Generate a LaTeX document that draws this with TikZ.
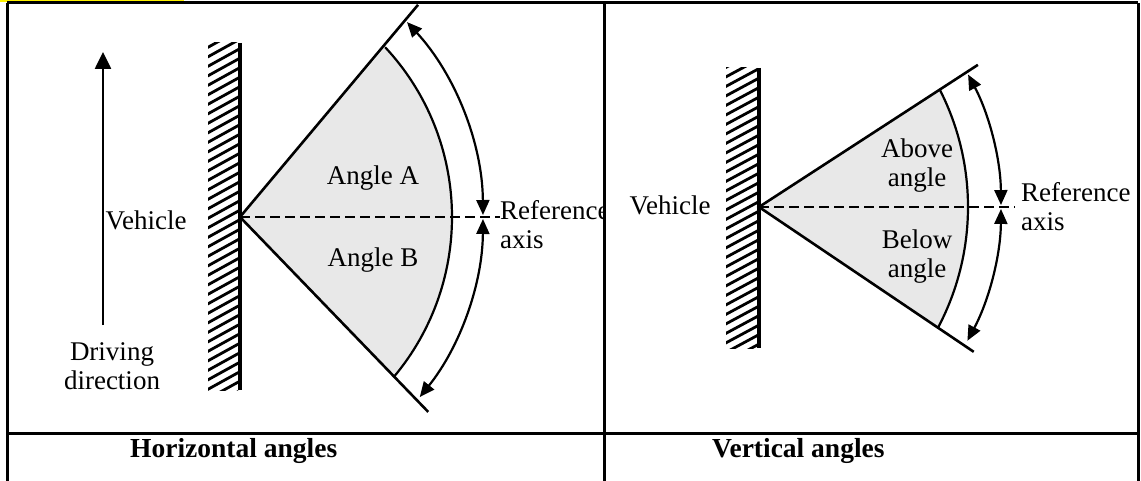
\documentclass[tikz,border=0pt]{standalone}
\usepackage{fontspec}
\setmainfont{Liberation Serif}
\usetikzlibrary{arrows.meta,calc,positioning}
\tikzset{
  frame/.style={line width=3pt},
  ray/.style={line width=2.6pt},
  arcline/.style={line width=2.2pt},
  axisline/.style={dash pattern=on 10pt off 5pt, line width=2.4pt},
  wallline/.style={line width=3.2pt},
  hatch/.style={line width=2.8pt},
  sector/.style={fill=black!9},
  lbl/.style={font=\fontsize{27}{29}\selectfont, inner sep=0pt, align=center},
  caption/.style={font=\bfseries\fontsize{27.5}{29}\selectfont, inner sep=0pt, anchor=base west}
}

\begin{document}
\begin{tikzpicture}[x=1pt,y=-1pt,>={Triangle[length=15pt,width=13pt]}]
\useasboundingbox (0,0) rectangle (1141,481);
\fill[yellow] (0,0) rectangle (184,2.5);
% table
\draw[frame] (7,3) -- (1138,3);
\draw[frame] (7,3) -- (7,481);
\draw[frame] (604,3) -- (604,481);
\draw[frame] (1138,3) -- (1138,481);
\draw[frame] (7,433) -- (1138,433);

% horizontal angles
\coordinate (apexL) at (240,217);
\coordinate (cenL) at (203,217);
\coordinate (arrL) at (195,217);
\coordinate (rayLa) at ($(apexL)+(-50:277)$);
\coordinate (rayLb) at ($(apexL)+(46:271)$);
\coordinate (axisL) at (500,217);
\begin{scope}
\clip (208,43) rectangle (238,390);
\foreach \y in {40,49.5,...,430} \draw[hatch] (204,\y) -- (242,\y-21);
\end{scope}
\draw[wallline] (240,43) -- (240,390);
\fill[sector] (apexL) -- ($(cenL)+(-43:249)$) arc[start angle=-43,end angle=40,radius=249] -- cycle;
\draw[arcline] ($(cenL)+(-43:249)$) arc[start angle=-43,end angle=40,radius=249];
\draw[ray] (rayLa) -- (apexL) -- (rayLb);
\draw[axisline] (apexL) -- (axisL);
\draw[<->,arcline] ($(arrL)+(-0.4:288)$) arc[start angle=-0.4,end angle=-42.6,radius=288];
\draw[<->,arcline] ($(arrL)+(0.4:288)$) arc[start angle=0.4,end angle=38.7,radius=288];
\coordinate (drvTail) at (103,325);
\coordinate (drvHead) at (103,52);
\draw[-{Triangle[length=17pt,width=16pt]},ray] (drvTail) -- (drvHead);
\node[lbl] (vehL) at (146,220) {Vehicle};
\node[lbl] (drvL) at (112,366) {Driving\\direction};
\node[lbl] (angA) at (373,178) {Angle A};
\node[lbl] (angB) at (373,260) {Angle B};
\begin{scope}
\clip (0,0) rectangle (603,481);
\node[lbl,anchor=west,align=left] (refL) at (500,225) {Reference\\axis};
\end{scope}
\node[caption] (capL) at (130,457) {Horizontal angles};

% vertical angles
\coordinate (apexR) at (759,207);
\coordinate (cenR) at (710,207);
\coordinate (arrR) at (718,207);
\coordinate (rayRa) at ($(apexR)+(-33:261)$);
\coordinate (rayRb) at ($(apexR)+(34:259)$);
\coordinate (axisR) at (1015,207);
\begin{scope}
\clip (726,68) rectangle (757,348);
\foreach \y in {60,69.5,...,380} \draw[hatch] (722,\y) -- (761,\y-21);
\end{scope}
\draw[wallline] (759,68) -- (759,348);
\fill[sector] (apexR) -- ($(cenR)+(-27:258)$) arc[start angle=-27,end angle=27.8,radius=258] -- cycle;
\draw[arcline] ($(cenR)+(-27:258)$) arc[start angle=-27,end angle=27.8,radius=258];
\draw[ray] (rayRa) -- (apexR) -- (rayRb);
\draw[axisline] (apexR) -- (axisR);
\draw[<->,arcline] ($(arrR)+(-0.4:283)$) arc[start angle=-0.4,end angle=-27.9,radius=283];
\draw[<->,arcline] ($(arrR)+(0.4:283)$) arc[start angle=0.4,end angle=28.2,radius=283];
\node[lbl] (vehR) at (670,205) {Vehicle};
\node[lbl] (aboveR) at (917,166) {Above\\angle};
\node[lbl] (belowR) at (917,257) {Below\\angle};
\node[lbl,anchor=west,align=left] (refR) at (1021,207) {Reference\\axis};
\node[caption] (capR) at (712,457) {Vertical angles};
\end{tikzpicture}
\end{document}
